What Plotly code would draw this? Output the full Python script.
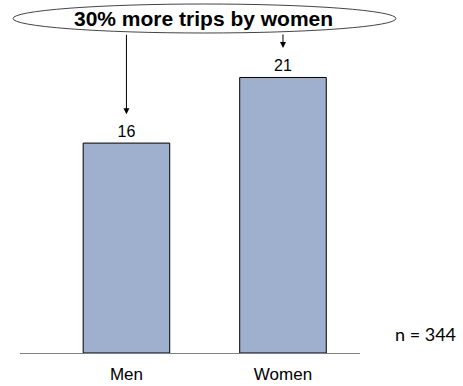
import plotly.graph_objects as go

# Average trips per person, by gender
categories = ["Men", "Women"]
trips = [16, 21]
sample_note = "n = 344"
headline = "30% more trips by women"

BAR_COLOR = "#9EB0CE"
W, H = 463, 386
M_L, M_R, M_T, M_B = 20, 103, 25, 33

fig = go.Figure()
fig.add_trace(go.Bar(
    x=list(range(len(categories))),
    y=trips,
    width=0.553,
    marker=dict(color=BAR_COLOR, line=dict(color="#000000", width=1)),
    text=[str(v) for v in trips],
    textposition="outside",
    textfont=dict(family="Liberation Sans, Arial", size=16, color="#000000"),
    cliponaxis=False,
    showlegend=False,
))

# Headline bubble (ellipse) above the bars, in paper coordinates
plot_w = W - M_L - M_R
plot_h = H - M_T - M_B


def px_x(p):
    return (p - M_L) / plot_w


def px_y(p):
    return (H - M_B - p) / plot_h


fig.add_shape(
    type="circle", xref="paper", yref="paper",
    x0=px_x(13), x1=px_x(396), y0=px_y(33), y1=px_y(4),
    fillcolor="white", line=dict(color="#444444", width=1), layer="above",
)
fig.add_annotation(
    xref="paper", yref="paper", x=px_x(203), y=px_y(19),
    xanchor="center", yanchor="middle",
    text="<b>" + headline + "</b>", showarrow=False,
    font=dict(family="Liberation Sans, Arial", size=21, color="#000000"),
)

# Arrows from the bubble down to each bar's label
arrow_gap = [2.2, 2.25]
arrow_len = [81, 15]
for i, v in enumerate(trips):
    fig.add_annotation(
        x=i, y=v + arrow_gap[i], xref="x", yref="y",
        ax=0, ay=-arrow_len[i], axref="pixel", ayref="pixel",
        showarrow=True, arrowhead=2, arrowsize=1.2, arrowwidth=1,
        arrowcolor="#000000", text="",
    )

fig.add_annotation(
    xref="paper", yref="paper", x=px_x(425), y=px_y(334),
    xanchor="center", yanchor="middle",
    text=sample_note, showarrow=False,
    font=dict(family="Lato, Carlito, sans-serif", size=18, color="#000000"),
)

fig.update_layout(
    width=W, height=H,
    margin=dict(l=M_L, r=M_R, t=M_T, b=M_B, autoexpand=False),
    paper_bgcolor="white", plot_bgcolor="white",
    xaxis=dict(
        range=[-0.68, 1.492], automargin=False,
        tickmode="array", tickvals=list(range(len(categories))), ticktext=categories,
        showline=True, linecolor="#808080", linewidth=1,
        showgrid=False, zeroline=False, ticks="",
        tickfont=dict(family="Liberation Sans, Arial", size=17, color="#000000"),
        ticklabelstandoff=6,
    ),
    yaxis=dict(range=[0, 25], visible=False, showgrid=False, zeroline=False,
               automargin=False),
)

fig.write_html("out.html")
